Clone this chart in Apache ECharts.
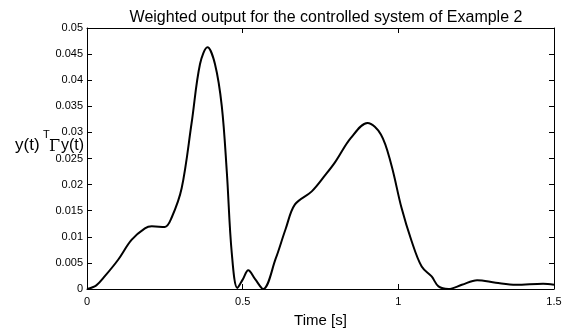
<!DOCTYPE html>
<html>
<head>
<meta charset="utf-8">
<script src="https://cdn.jsdelivr.net/npm/echarts@6/dist/echarts.min.js"></script>
<style>
  html, body { margin: 0; padding: 0; background: #fff; }
  #chart { width: 568px; height: 333px; }
</style>
</head>
<body>
<div id="chart"></div>
<script>
// time samples [s] and weighted output y(t)^T Γ y(t)
const timeData = [0, 0.03, 0.058, 0.1, 0.143, 0.186, 0.208, 0.25, 0.272, 0.304, 0.336, 0.363, 0.387, 0.411, 0.433, 0.449, 0.465, 0.483, 0.5, 0.518, 0.54, 0.566, 0.606, 0.638, 0.668, 0.722, 0.765, 0.797, 0.847, 0.901, 0.944, 0.977, 1.01, 1.042, 1.075, 1.107, 1.129, 1.161, 1.204, 1.253, 1.313, 1.378, 1.465, 1.5]
const outputData = [0, 0.0007, 0.0025, 0.0056, 0.0094, 0.0116, 0.012, 0.0119, 0.0137, 0.0193, 0.0318, 0.0431, 0.0463, 0.0431, 0.035, 0.0225, 0.0069, 0.0002, 0.0018, 0.0036, 0.0019, 0, 0.0058, 0.0115, 0.0162, 0.0187, 0.0218, 0.0243, 0.0289, 0.0318, 0.0296, 0.0239, 0.0156, 0.0093, 0.0043, 0.0024, 0.0005, 0, 0.0008, 0.0017, 0.0012, 0.0008, 0.001, 0.0008]
const xTicks = [0, 0.5, 1, 1.5]

const font = 'Liberation Sans, Arial, sans-serif'
const myEchart = echarts.init(document.getElementById('chart'))

const axisLine = { show: true, onZero: false, lineStyle: { color: '#000', width: 1 } }
const tickIn = { show: true, inside: true, length: 5, lineStyle: { color: '#000' } }

const option = {
  animation: false,
  title: {
    text: 'Weighted output for the controlled system of Example 2',
    left: 321, top: 5, textAlign: 'center',
    textStyle: { fontFamily: font, fontSize: 16, fontWeight: 'normal', color: '#000' }
  },
  grid: { left: 87, right: 14, top: 28, bottom: 38 },
  xAxis: [
    {
      type: 'value', min: 0, max: 1.5, interval: 0.5,
      name: 'Time [s]', nameLocation: 'middle', nameGap: 24,
      nameTextStyle: { fontFamily: font, fontSize: 15, color: '#000' },
      axisLine, axisTick: tickIn, splitLine: { show: false },
      axisLabel: { fontFamily: font, fontSize: 11, color: '#000', margin: 7,
        formatter: v => xTicks.includes(v) ? String(v) : '' }
    },
    {
      type: 'value', min: 0, max: 1.5, interval: 0.5, position: 'top',
      axisLine, axisTick: tickIn, axisLabel: { show: false }, splitLine: { show: false }
    }
  ],
  yAxis: [
    {
      type: 'value', min: 0, max: 0.05, interval: 0.005,
      axisLine, axisTick: tickIn, splitLine: { show: false },
      axisLabel: { fontFamily: font, fontSize: 11, color: '#000', margin: 4,
        formatter: v => String(+v.toFixed(3)) }
    },
    {
      type: 'value', min: 0, max: 0.05, interval: 0.005, position: 'right',
      axisLine, axisTick: tickIn, axisLabel: { show: false }, splitLine: { show: false }
    }
  ],
  graphic: [
    { type: 'text', left: 15, top: 137, style: { text: 'y(t)', fontFamily: font, fontSize: 17, fill: '#000' } },
    { type: 'text', left: 43, top: 129, style: { text: 'T', fontFamily: font, fontSize: 11, fill: '#000' } },
    { type: 'text', left: 49, top: 139, style: { text: 'Γ', fontFamily: 'DejaVu Serif, serif', fontSize: 16, fill: '#000' } },
    { type: 'text', left: 61, top: 138, style: { text: 'y(t)', fontFamily: font, fontSize: 16, fill: '#000' } }
  ],
  series: [
    {
      type: 'line',
      data: timeData.map((t, i) => [t, outputData[i]]),
      showSymbol: false,
      smooth: 0.35,
      lineStyle: { color: '#000', width: 2 },
      clip: true
    }
  ]
}
myEchart.setOption(option)
</script>
</body>
</html>
